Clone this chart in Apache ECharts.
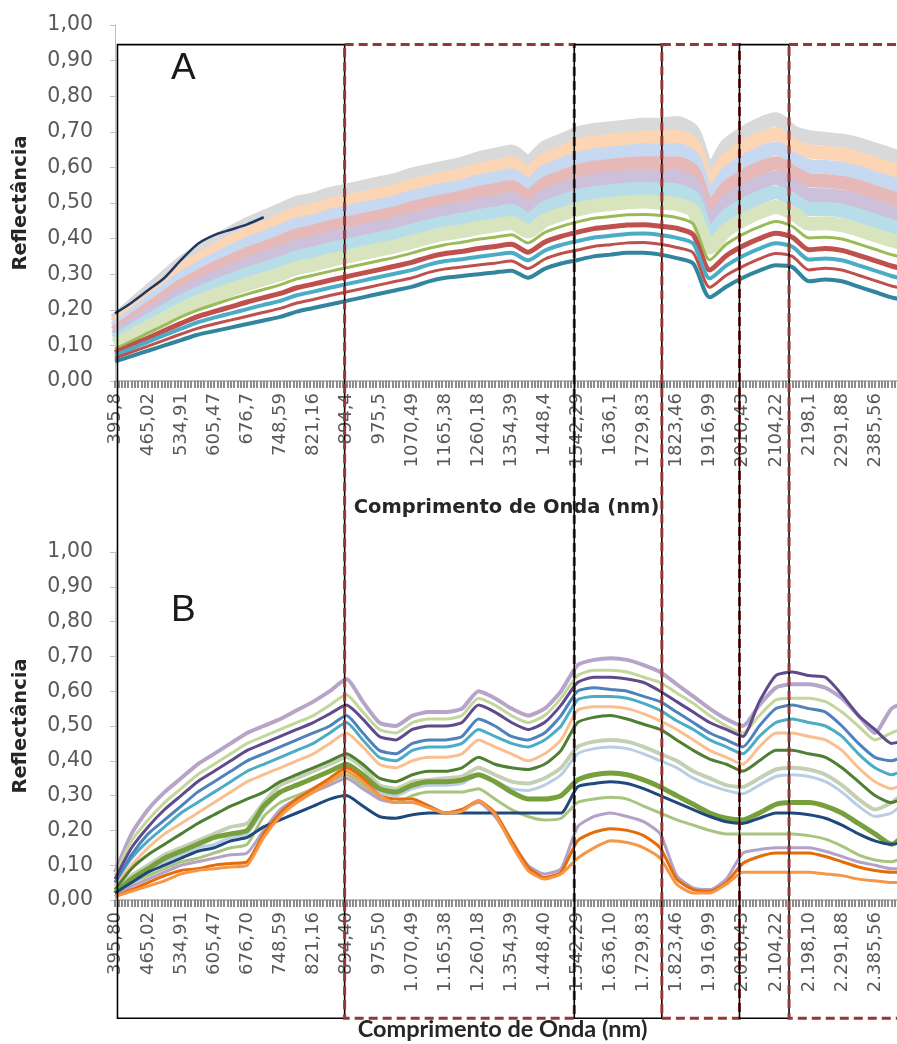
<!DOCTYPE html>
<html>
<head>
    <meta charset="utf-8">
    <title>Reflectância - espectros A e B</title>
    <script src="https://cdn.jsdelivr.net/npm/echarts@6/dist/echarts.min.js"></script>
    <style>
        html, body { margin: 0; padding: 0; background: #ffffff; }
        #chart { width: 897px; height: 1044px; }
    </style>
</head>
<body>
<div id="chart"></div>
<script>
    // bandas (nm) - uma categoria a cada meio rótulo
    var bands = [395.8, 430.4, 465.02, 500.0, 534.91, 570.2, 605.47, 641.1, 676.7, 712.6,
        748.59, 784.9, 821.16, 857.8, 894.4, 934.9, 975.5, 1023.0, 1070.49, 1117.9,
        1165.38, 1212.8, 1260.18, 1307.3, 1354.39, 1401.4, 1448.4, 1495.3, 1542.29, 1589.2,
        1636.1, 1683.0, 1729.83, 1776.6, 1823.46, 1870.2, 1916.99, 1963.7, 2010.43, 2057.3,
        2104.22, 2151.2, 2198.1, 2245.0, 2291.88, 2338.7, 2385.56, 2432.4, 2479.2];

    var labelsA = ['395,8', '465,02', '534,91', '605,47', '676,7', '748,59', '821,16', '894,4', '975,5',
        '1070,49', '1165,38', '1260,18', '1354,39', '1448,4', '1542,29', '1636,1', '1729,83', '1823,46',
        '1916,99', '2010,43', '2104,22', '2198,1', '2291,88', '2385,56'];
    var labelsB = ['395,80', '465,02', '534,91', '605,47', '676,70', '748,59', '821,16', '894,40', '975,50',
        '1.070,49', '1.165,38', '1.260,18', '1.354,39', '1.448,40', '1.542,29', '1.636,10', '1.729,83', '1.823,46',
        '1.916,99', '2.010,43', '2.104,22', '2.198,10', '2.291,88', '2.385,56'];

    // ---- painel A ----
    var aGrey = [.170,.210,.250,.290,.330,.360,.390,.415,.440,.460, .480,.500,.510,.525,.535,.545,.555,.565,.580,.590,
        .600,.610,.625,.635,.645,.615,.655,.675,.695,.705, .710,.715,.720,.720,.725,.700,.585,.660,.695,.720, .735,.700,.685,.680,.675,.665,.650,.635,.620];
    var aPeach = [.159,.196,.234,.271,.309,.337,.365,.389,.412,.431, .450,.470,.480,.494,.504,.514,.524,.534,.549,.559,
        .569,.579,.593,.602,.612,.583,.621,.641,.660,.670, .675,.680,.684,.684,.687,.663,.550,.621,.655,.679, .694,.662,.645,.641,.636,.625,.610,.595,.581];
    var aSky = [.147,.182,.217,.252,.287,.314,.340,.362,.384,.402, .420,.439,.449,.463,.473,.483,.493,.503,.517,.528,
        .538,.547,.560,.569,.578,.550,.587,.606,.624,.634, .639,.644,.648,.647,.649,.626,.515,.581,.614,.638, .653,.624,.604,.601,.596,.585,.570,.555,.541];
    var aRose = [.136,.168,.201,.233,.266,.291,.315,.336,.356,.373, .390,.409,.419,.432,.442,.452,.462,.472,.486,.497,
        .507,.516,.528,.536,.545,.518,.553,.572,.589,.599, .604,.609,.612,.611,.611,.589,.480,.542,.574,.597, .612,.586,.564,.562,.557,.545,.530,.515,.502];
    var aLilac = [.124,.154,.184,.214,.244,.268,.290,.309,.328,.344, .360,.378,.388,.401,.411,.421,.431,.441,.454,.466,
        .476,.484,.495,.503,.511,.485,.519,.537,.553,.563, .568,.573,.576,.574,.573,.552,.445,.502,.533,.556, .571,.548,.523,.522,.517,.505,.490,.475,.462];
    var aAqua = [.113,.140,.168,.195,.223,.245,.265,.283,.300,.315, .330,.348,.358,.370,.380,.390,.400,.410,.423,.435,
        .445,.453,.463,.470,.478,.453,.485,.503,.518,.528, .533,.538,.540,.538,.535,.515,.410,.463,.493,.515, .530,.510,.483,.483,.478,.465,.450,.435,.423];
    var aSage = [.101,.126,.151,.176,.201,.222,.240,.256,.272,.286, .300,.317,.327,.339,.349,.359,.369,.379,.391,.404,
        .414,.421,.430,.437,.444,.420,.451,.468,.482,.492, .497,.502,.504,.501,.497,.478,.375,.423,.452,.474, .489,.472,.442,.443,.438,.425,.410,.395,.383];
    var aOlive = [.090,.112,.135,.157,.180,.199,.215,.230,.244,.257, .270,.287,.297,.308,.318,.328,.338,.348,.360,.373,
        .383,.390,.398,.404,.411,.388,.417,.434,.447,.457, .462,.467,.468,.465,.459,.441,.340,.384,.412,.433, .448,.434,.402,.404,.399,.385,.370,.355,.344];
    var aRed = [.080,.101,.121,.142,.162,.181,.195,.208,.222,.234, .246,.262,.272,.283,.293,.303,.313,.323,.334,.348,
        .358,.364,.372,.378,.384,.362,.390,.406,.418,.428, .433,.438,.439,.435,.429,.411,.312,.352,.379,.400, .415,.404,.369,.372,.367,.353,.338,.323,.312];
    var aTeal = [.072,.091,.110,.129,.147,.165,.178,.190,.202,.214, .225,.241,.251,.262,.272,.282,.292,.302,.312,.327,
        .337,.342,.349,.355,.360,.339,.366,.382,.393,.403, .408,.413,.414,.410,.402,.386,.288,.324,.351,.372, .387,.377,.341,.344,.339,.325,.310,.295,.284];
    var aRed2 = [.064,.081,.098,.115,.132,.148,.160,.171,.182,.193, .204,.219,.229,.240,.250,.260,.270,.280,.290,.305,
        .315,.320,.326,.331,.337,.316,.342,.358,.368,.378, .383,.388,.389,.384,.375,.360,.263,.297,.322,.343, .358,.350,.312,.317,.312,.297,.282,.267,.257];
    var aCyan = [.055,.070,.085,.100,.115,.130,.140,.150,.160,.170, .180,.195,.205,.215,.225,.235,.245,.255,.265,.280,
        .290,.295,.300,.305,.310,.290,.315,.330,.340,.350, .355,.360,.360,.355,.345,.330,.235,.265,.290,.310, .325,.320,.280,.285,.280,.265,.250,.235,.225];
    var aNavy = [.190,.220,.255,.290,.340,.385,.410,.425,.440,.460];

    // ---- painel B ----
    var b1 = [.08,.19,.26,.31,.35,.39,.42,.45,.48,.50, .52,.545,.57,.60,.635,.57,.51,.50,.53,.54,
        .54,.55,.60,.58,.55,.53,.55,.60,.675,.69, .695,.69,.675,.655,.62,.585,.55,.52,.50,.56, .61,.62,.62,.61,.58,.53,.48,.55,.57];
    var b2 = [.07,.17,.23,.28,.32,.36,.39,.42,.45,.47, .49,.51,.53,.56,.59,.54,.49,.48,.51,.52,
        .52,.53,.58,.56,.53,.51,.53,.58,.645,.66, .66,.655,.64,.625,.595,.565,.53,.50,.48,.53, .575,.58,.58,.57,.54,.50,.46,.48,.50];
    var b3 = [.06,.15,.21,.26,.30,.34,.37,.40,.43,.45, .47,.49,.51,.535,.56,.52,.47,.46,.49,.50,
        .50,.51,.56,.54,.51,.49,.51,.56,.625,.64, .64,.635,.625,.60,.57,.54,.51,.49,.47,.57, .645,.655,.645,.64,.59,.53,.49,.45,.46];
    var b4 = [.05,.13,.19,.23,.27,.31,.34,.37,.40,.42, .44,.46,.48,.50,.53,.48,.43,.42,.45,.46,
        .46,.47,.52,.50,.47,.46,.48,.53,.60,.61, .605,.60,.585,.57,.54,.51,.48,.46,.44,.50, .55,.56,.55,.54,.50,.45,.41,.40,.42];
    var b5 = [.05,.12,.17,.21,.25,.28,.31,.34,.37,.39, .41,.43,.45,.48,.51,.46,.41,.40,.43,.44,
        .44,.45,.49,.47,.45,.44,.46,.50,.575,.585, .585,.58,.565,.545,.515,.49,.46,.44,.42,.47, .51,.52,.51,.50,.47,.42,.38,.36,.38];
    var b6 = [.04,.10,.15,.19,.22,.25,.28,.31,.34,.36, .38,.40,.42,.45,.48,.44,.39,.38,.40,.41,
        .41,.42,.46,.44,.42,.40,.42,.46,.545,.555, .555,.55,.535,.515,.49,.46,.43,.41,.39,.44, .48,.48,.47,.46,.43,.38,.34,.32,.34];
    var b7 = [.03,.09,.13,.16,.19,.22,.245,.27,.29,.31, .34,.36,.38,.40,.42,.39,.35,.34,.36,.37,
        .37,.38,.41,.39,.38,.375,.39,.43,.51,.525, .53,.52,.505,.49,.46,.43,.405,.39,.37,.40, .43,.43,.42,.41,.38,.34,.30,.28,.30];
    var b8 = [.03,.07,.10,.13,.15,.17,.19,.21,.22,.28, .33,.35,.37,.39,.41,.38,.33,.32,.34,.345,
        .35,.355,.38,.36,.34,.335,.35,.38,.44,.455, .46,.455,.44,.42,.40,.37,.35,.33,.325,.35, .375,.38,.375,.36,.33,.29,.26,.28,.32];
    var b9 = [.02,.06,.09,.11,.13,.15,.16,.18,.19,.26, .31,.33,.35,.37,.39,.36,.31,.30,.32,.33,
        .33,.335,.36,.34,.32,.315,.33,.36,.42,.435, .44,.435,.42,.40,.38,.35,.33,.315,.305,.33, .355,.36,.355,.34,.31,.27,.24,.25,.29];
    var b10 = [.02,.06,.09,.12,.14,.16,.18,.19,.20,.27, .31,.33,.35,.37,.39,.36,.32,.31,.33,.34,
        .34,.345,.36,.34,.31,.29,.29,.30,.345,.36, .365,.36,.345,.325,.30,.275,.25,.235,.23,.25, .275,.28,.28,.27,.25,.22,.19,.16,.20];
    var b11 = [.02,.05,.08,.10,.12,.14,.15,.17,.18,.21, .23,.25,.27,.29,.30,.27,.24,.235,.245,.25,
        .25,.25,.25,.25,.25,.25,.25,.25,.325,.335, .34,.335,.32,.30,.28,.26,.24,.225,.22,.235, .25,.25,.245,.235,.215,.19,.17,.16,.17];
    var b12 = [.02,.05,.07,.09,.11,.12,.135,.15,.16,.24, .28,.30,.32,.34,.36,.33,.29,.28,.30,.31,
        .31,.31,.32,.29,.26,.24,.23,.235,.28,.29, .295,.29,.27,.25,.23,.215,.20,.19,.19,.19, .19,.19,.185,.175,.155,.13,.115,.11,.13];
    var b13 = [.01,.04,.06,.08,.10,.11,.12,.13,.135,.20, .26,.29,.31,.33,.35,.32,.29,.28,.28,.27,
        .25,.26,.28,.24,.17,.10,.075,.09,.21,.24, .25,.24,.225,.19,.07,.035,.03,.06,.135,.145, .15,.15,.15,.14,.125,.11,.10,.09,.09];
    var b14 = [.01,.03,.05,.07,.085,.09,.10,.105,.11,.19, .25,.29,.32,.35,.38,.35,.30,.29,.29,.27,
        .25,.26,.285,.25,.17,.095,.065,.08,.17,.195, .205,.20,.185,.15,.06,.03,.025,.05,.105,.125, .135,.135,.135,.125,.11,.095,.085,.08,.08];
    var b15 = [.01,.025,.04,.055,.075,.085,.09,.095,.10,.18, .24,.28,.31,.34,.37,.34,.30,.28,.28,.265,
        .25,.255,.285,.245,.16,.085,.06,.075,.12,.15, .17,.165,.15,.12,.045,.02,.02,.045,.08,.08, .08,.08,.08,.075,.07,.06,.055,.05,.05];

    // limites das regiões espectrais (em posições de categoria)
    var boxEdges = [0.15, 13.9, 27.8, 33.1, 37.8, 40.8, 50];

    var chart = echarts.init(document.getElementById('chart'));

    function lineA(data, color, width) {
        return {type: 'line', xAxisIndex: 0, yAxisIndex: 0, data: data, showSymbol: false, smooth: 0.25,
            lineStyle: {color: color, width: width}, itemStyle: {color: color}, silent: true};
    }
    function lineB(data, color, width) {
        return {type: 'line', xAxisIndex: 2, yAxisIndex: 1, data: data, showSymbol: false, smooth: 0.2,
            lineStyle: {color: color, width: width}, itemStyle: {color: color}, silent: true};
    }

    var tickStyle = {show: true, length: 7, lineStyle: {color: '#808080', width: 1.8}};
    function catAxis(grid, labels, nameFont, nameGap) {
        return {
            type: 'category', gridIndex: grid, position: 'bottom', data: bands, boundaryGap: false,
            axisLine: {lineStyle: {color: '#bfbfbf', width: 2}},
            axisTick: {show: false},
            axisLabel: {
                interval: 0, rotate: 90, margin: 12, color: '#595959', fontSize: 18, fontFamily: 'DejaVu Sans',
                formatter: function (v, i) { return i % 2 ? '' : (labels[i / 2] || ''); }
            },
            name: 'Comprimento de Onda (nm)', nameLocation: 'middle', nameGap: nameGap,
            nameTextStyle: nameFont
        };
    }
    function tickAxis(grid) {
        return {
            type: 'value', gridIndex: grid, position: 'bottom', min: 0, max: 48, interval: 0.2,
            axisLine: {show: false}, axisTick: tickStyle, axisLabel: {show: false}, splitLine: {show: false}
        };
    }
    function yAxis(grid) {
        return {
            type: 'value', gridIndex: grid, min: 0, max: 1, interval: 0.1,
            axisLine: {show: true, lineStyle: {color: '#bfbfbf'}},
            axisTick: {show: true, length: 5, lineStyle: {color: '#bfbfbf'}},
            splitLine: {show: false},
            axisLabel: {
                margin: 22, color: '#595959', fontSize: 20.5, fontFamily: 'DejaVu Sans',
                formatter: function (v) { return v.toFixed(2).replace('.', ','); }
            },
            name: 'Reflectância', nameLocation: 'middle', nameGap: 84, nameRotate: 90,
            nameTextStyle: {fontFamily: 'DejaVu Sans', fontWeight: 'bold', fontSize: 19.5, color: '#262626'}
        };
    }

    var option = {
        animation: false,
        backgroundColor: '#ffffff',
        grid: [
            {left: 115, top: 25, right: -11, height: 356, outerBoundsMode: 'none'},
            {left: 115, top: 552, right: -11, height: 348, outerBoundsMode: 'none'}
        ],
        xAxis: [
            catAxis(0, labelsA, {fontFamily: 'DejaVu Sans', fontWeight: 'bold', fontSize: 19.5, color: '#262626',
                padding: [0, 10, 0, 0]}, 117),
            tickAxis(0),
            catAxis(1, labelsB, {fontFamily: 'Lato', fontWeight: 'bold', fontSize: 23.5, color: '#262626',
                padding: [0, 18, 0, 0]}, 117),
            tickAxis(1)
        ],
        yAxis: [yAxis(0), yAxis(1)],
        series: [
            lineA(aGrey, '#d9d9d9', 14),
            lineA(aPeach, '#fcd5b4', 14),
            lineA(aSky, '#c6d9f1', 14),
            lineA(aRose, '#e6b9b8', 14),
            lineA(aLilac, '#ccc0da', 14),
            lineA(aAqua, '#b7dee8', 14),
            lineA(aSage, '#d7e4bd', 14),
            lineA(aNavy, '#1f3864', 2.5),
            lineA(aOlive, '#9bbb59', 3),
            lineA(aRed, '#c0504d', 5),
            lineA(aTeal, '#4bacc6', 4),
            lineA(aRed2, '#c0504d', 3),
            lineA(aCyan, '#31859c', 4),

            lineB(b1, '#b7a5c9', 4),
            lineB(b2, '#c3d69b', 3),
            lineB(b8, '#c4d0b4', 4),
            lineB(b9, '#b9cde5', 3),
            lineB(b6, '#fabf8f', 3),
            lineB(b5, '#4bacc6', 3),
            lineB(b4, '#4f81bd', 3),
            lineB(b3, '#5f4b8b', 3),
            lineB(b7, '#4f7f32', 3),
            lineB(b12, '#a9c47f', 3),
            lineB(b13, '#b3a2c7', 3),
            lineB(b10, '#77a03c', 5),
            lineB(b11, '#1f497d', 3),
            lineB(b14, '#e46c0a', 3),
            lineB(b15, '#f79646', 3)
        ]
    };
    chart.setOption(option);

    // caixas das regiões + letras dos painéis
    var yTop = chart.convertToPixel({yAxisIndex: 0}, 0.945);
    var yBot = chart.convertToPixel({yAxisIndex: 1}, -0.34);
    var graphics = [];
    for (var k = 0; k < boxEdges.length - 1; k++) {
        var x0 = chart.convertToPixel({xAxisIndex: 1}, boxEdges[k]);
        var x1 = chart.convertToPixel({xAxisIndex: 1}, boxEdges[k + 1]);
        var dashed = k % 2 === 1;
        graphics.push({
            type: 'rect', z: 100, silent: true,
            shape: {x: x0, y: yTop, width: x1 - x0, height: yBot - yTop},
            style: dashed
                ? {fill: null, stroke: '#953735', lineWidth: 3, lineDash: [9, 5]}
                : {fill: null, stroke: '#000000', lineWidth: 1.6}
        });
    }
    graphics.push({type: 'text', z: 101, left: 171, top: 50,
        style: {text: 'A', fontSize: 37, fontFamily: 'Liberation Sans', fill: '#1a1a1a'}});
    graphics.push({type: 'text', z: 101, left: 171, top: 592,
        style: {text: 'B', fontSize: 37, fontFamily: 'Liberation Sans', fill: '#1a1a1a'}});
    chart.setOption({graphic: graphics});
</script>
</body>
</html>
